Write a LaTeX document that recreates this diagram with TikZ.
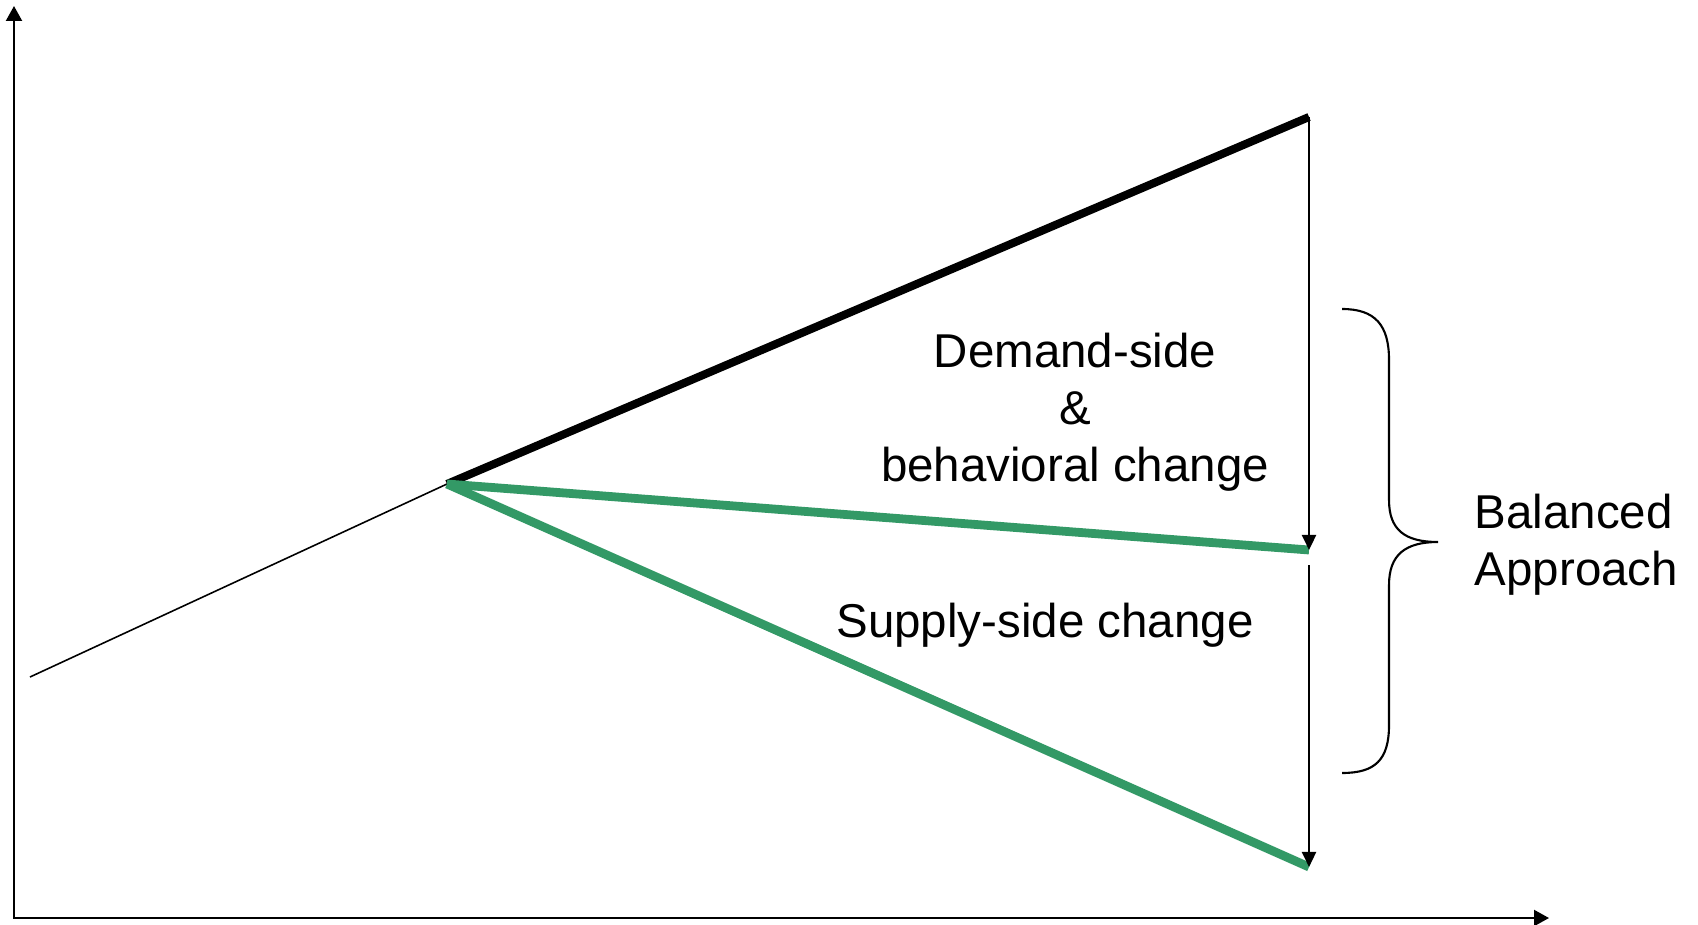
\documentclass[tikz,border=0pt]{standalone}
\usepackage{fontspec}
\setmainfont{Liberation Sans}
\usetikzlibrary{arrows.meta}
\definecolor{wedgegreen}{RGB}{51,153,102}
\begin{document}
\begin{tikzpicture}[x=0.01cm,y=-0.01cm,
	axis/.style={{Triangle[width=0.16cm,length=0.15cm]}-{Triangle[width=0.16cm,length=0.15cm]},line width=0.6pt},
	droptip/.style={-{Triangle[width=0.14cm,length=0.15cm]},line width=0.6pt},
	label/.style={font=\fontsize{13.5}{16.2}\selectfont,inner sep=0pt}]

	\useasboundingbox (0,0) rectangle (1698,925);

	\coordinate (ytip) at (14,6);
	\coordinate (xtip) at (1549,918);
	\coordinate (start) at (30,677);
	\coordinate (kink) at (447,484);
	\coordinate (topend) at (1309,117);
	\coordinate (midend) at (1309,550);
	\coordinate (lowend) at (1309,867);

	\draw [axis] (ytip) |- (xtip);

	\draw [line width=0.45pt] (start) -- (kink);
	\draw [line width=2.3pt] (kink) -- (topend);

	\draw [wedgegreen,line width=2.5pt] (kink) -- (midend);
	\draw [wedgegreen,line width=2.5pt] (kink) -- (lowend);

	\draw [droptip] (topend) -- (midend);
	\draw [droptip,shorten <=0.15cm] (midend) -- (lowend);

	%\draw[step=100,gray,very thin] (0,0) grid (1698,925);

	\draw [line width=0.6pt] (1342,309) .. controls (1375,309) and (1389,325) .. (1389,360)
		-- (1389,500) .. controls (1389,530) and (1405,542) .. (1438,542)
		.. controls (1405,542) and (1389,555) .. (1389,585)
		-- (1389,725) .. controls (1389,760) and (1375,773) .. (1342,773);

	\node (demand) at (1075,332) [label,anchor=north,align=center] {Demand-side\\ \&\\ behavioral change};

	\node (supply) at (1045,637) [label,anchor=base] {Supply-side change};

	\node (balanced) at (1474,493) [label,anchor=north west,align=left] {Balanced\\ Approach};

\end{tikzpicture}
\end{document}
